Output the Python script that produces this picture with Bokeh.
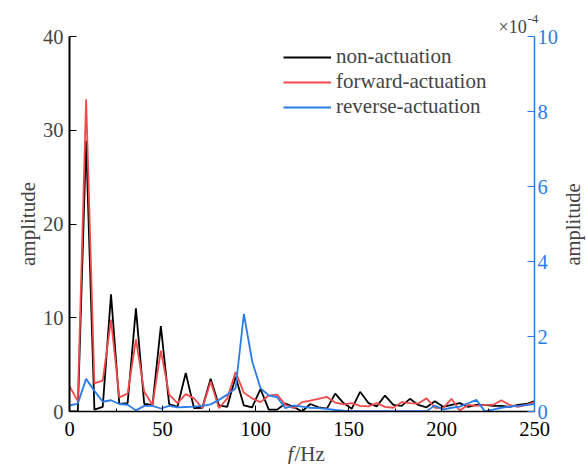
import math
from bokeh.plotting import figure
from bokeh.models import (Range1d, LinearAxis, SingleIntervalTicker, Legend, LegendItem, Label)
from bokeh.embed import file_html
from bokeh.resources import INLINE

# frequency bins (Hz)
freq = [0.0, 4.46, 8.93, 13.39, 17.86, 22.32, 26.79, 31.25, 35.71, 40.18, 44.64, 49.11,
        53.57, 58.04, 62.5, 66.96, 71.43, 75.89, 80.36, 84.82, 89.29, 93.75, 98.21, 102.68,
        107.14, 111.61, 116.07, 120.54, 125.0, 129.46, 133.93, 138.39, 142.86, 147.32, 151.79,
        156.25, 160.71, 165.18, 169.64, 174.11, 178.57, 183.04, 187.5, 191.96, 196.43, 200.89,
        205.36, 209.82, 214.29, 218.75, 223.21, 227.68, 232.14, 236.61, 241.07, 245.54, 250.0]

non_actuation = [0.0, 0.0, 28.9, 0.2, 0.5, 12.5, 0.8, 0.9, 11.0, 0.8,
                 0.7, 9.1, 0.8, 0.5, 4.1, 0.35, 0.4, 3.5, 0.65, 0.5,
                 3.7, 0.65, 0.45, 2.4, 0.2, 0.2, 0.85, 0.5, 0.0, 0.8,
                 0.45, 0.3, 1.9, 0.9, 0.3, 2.1, 0.9, 0.55, 1.7, 0.7,
                 0.6, 1.35, 0.7, 0.45, 1.1, 0.5, 0.7, 0.9, 0.5, 0.7,
                 0.7, 0.6, 0.6, 0.5, 0.7, 0.8, 1.1]

forward_actuation = [2.7, 1.1, 33.3, 3.0, 3.3, 9.8, 1.5, 1.9, 7.7, 2.1,
                     0.7, 6.5, 1.8, 0.9, 1.85, 1.4, 0.35, 3.2, 0.35, 1.4,
                     4.2, 2.0, 1.4, 1.0, 1.7, 1.8, 0.7, 0.35, 1.0, 1.15,
                     1.35, 1.55, 0.95, 0.75, 0.9, 0.6, 0.55, 0.9, 0.5, 0.4,
                     1.0, 0.9, 0.85, 1.4, 0.4, 0.35, 1.35, 0.1, 0.7, 0.6,
                     0.7, 0.7, 1.2, 0.7, 0.5, 0.7, 1.0]

# reverse-actuation, in units of 1e-4 (right axis)
reverse_actuation = [0.16, 0.21, 0.87, 0.55, 0.26, 0.3, 0.2, 0.18, 0.03, 0.15,
                     0.15, 0.08, 0.15, 0.11, 0.12, 0.13, 0.15, 0.19, 0.31, 0.45,
                     0.62, 2.6, 1.34, 0.62, 0.43, 0.38, 0.09, 0.16, 0.13, 0.1,
                     0.09, 0.07, 0.04, 0.02, 0.01, 0.01, 0.01, 0.01, 0.01, 0.01,
                     0.01, 0.01, 0.01, 0.01, 0.16, 0.05, 0.1, 0.13, 0.22, 0.31,
                     0.01, 0.05, 0.1, 0.13, 0.15, 0.17, 0.2]

series_names = ["non-actuation", "forward-actuation", "reverse-actuation"]

BLACK = "#000000"
RED = "#f04a4a"
BLUE = "#2a7de8"
FONT = "Liberation Serif"
TICK_FS = "20.5px"
LABEL_FS = "21px"

p = figure(width=586, height=464, x_range=Range1d(0, 250), y_range=Range1d(0, 40),
           output_backend="svg", toolbar_location=None,
           min_border_left=69, min_border_right=52, min_border_top=36, min_border_bottom=53)
p.outline_line_color = None
p.xgrid.visible = False
p.ygrid.visible = False
p.extra_y_ranges = {"right": Range1d(0, 10)}

r1 = p.line(freq, non_actuation, line_color=BLACK, line_width=1.8)
r2 = p.line(freq, forward_actuation, line_color=RED, line_width=1.8)
r3 = p.line(freq, reverse_actuation, line_color=BLUE, line_width=1.8, y_range_name="right")

# bottom axis
xa = p.xaxis[0]
xa.ticker = SingleIntervalTicker(interval=50, num_minor_ticks=2)
xa.axis_line_width = 1.5
xa.major_tick_in = 6
xa.major_tick_out = 0
xa.minor_tick_in = 3
xa.minor_tick_out = 0
xa.major_label_standoff = 10
xa.major_label_text_font = FONT
xa.major_label_text_font_size = TICK_FS
xa.major_label_text_color = BLACK

# left axis
ya = p.yaxis[0]
ya.ticker = SingleIntervalTicker(interval=10, num_minor_ticks=0)
ya.axis_line_width = 2
ya.major_tick_in = 7
ya.major_tick_out = 0
ya.minor_tick_in = 0
ya.minor_tick_out = 0
ya.major_label_standoff = 6
ya.major_label_text_font = FONT
ya.major_label_text_font_size = TICK_FS
ya.axis_label = "amplitude"
ya.axis_label_text_font = FONT
ya.axis_label_text_font_size = LABEL_FS
ya.axis_label_text_font_style = "normal"
ya.axis_label_standoff = 0

# right axis
ra = LinearAxis(y_range_name="right", ticker=SingleIntervalTicker(interval=2, num_minor_ticks=0))
ra.axis_line_color = BLUE
ra.axis_line_width = 1.5
ra.major_tick_line_color = BLUE
ra.major_tick_in = 7
ra.major_tick_out = 0
ra.minor_tick_in = 0
ra.minor_tick_out = 0
ra.major_label_standoff = 3
ra.major_label_text_font = FONT
ra.major_label_text_font_size = TICK_FS
ra.major_label_text_color = BLUE
p.add_layout(ra, "right")

def canvas_label(place, x, y, text, size, style="normal", angle=0.0, align="left"):
    # positioned in absolute canvas pixels; placed in a side panel so it is not clipped
    lab = Label(x=x, y=y, x_units="canvas", y_units="canvas", text=text,
                text_font=FONT, text_font_size=size, text_font_style=style,
                text_baseline="middle", text_align=align, angle=angle)
    p.add_layout(lab, place)
    return lab

# right axis title
canvas_label("right", 572, 224, "amplitude", "20.5px", angle=math.pi / 2, align="center")
# x-axis title f/Hz (italic f)
canvas_label("left", 287, 453, "f", LABEL_FS, style="italic")
canvas_label("below", 294, 453, "/Hz", LABEL_FS)
# x10^-4 multiplier
canvas_label("above", 498, 26, "×10", "18px")
canvas_label("above", 527, 18.5, "-4", "13px")

legend = Legend(items=[LegendItem(label=series_names[0], renderers=[r1]),
                       LegendItem(label=series_names[1], renderers=[r2]),
                       LegendItem(label=series_names[2], renderers=[r3])],
                location=(214, 292))
legend.label_text_font = FONT
legend.label_text_font_size = LABEL_FS
legend.glyph_width = 48
legend.glyph_height = 20
legend.label_height = 20
legend.label_standoff = 5
legend.spacing = 0
legend.padding = 0
legend.margin = 0
legend.border_line_alpha = 0
legend.background_fill_alpha = 0
p.add_layout(legend, "center")

open("out.html", "w").write(file_html(p, INLINE))
